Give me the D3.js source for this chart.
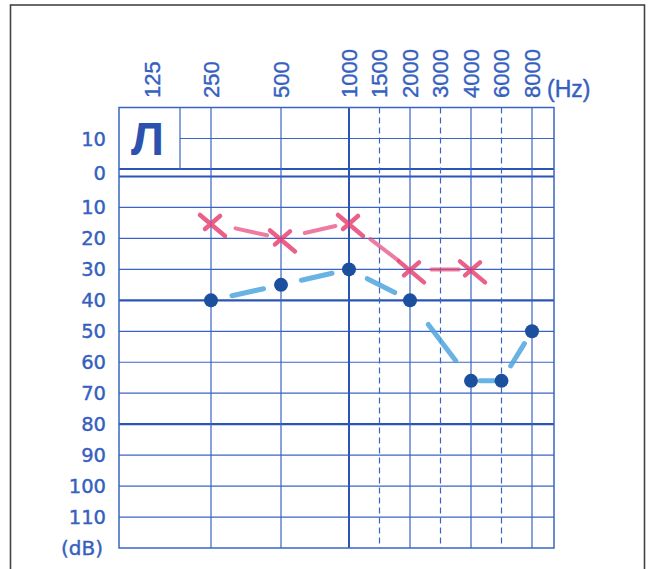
<!DOCTYPE html>
<html>
<head>
<meta charset="utf-8">
<script src="https://cdn.jsdelivr.net/npm/d3@7"></script>
<style>
  body { margin: 0; background: #fff; }
  svg { display: block; }
</style>
</head>
<body>
<svg id="chart" width="655" height="569"></svg>
<script>
// --- data ---
const freqTicks = [125, 250, 500, 1000, 1500, 2000, 3000, 4000, 6000, 8000];
const freqLabels = ["125", "250", "500", "1000", "1500", "2000", "3000", "4000", "6000", "8000"];
const dashedFreqs = [1500, 3000, 6000];
const dbTicks = [-10, 0, 10, 20, 30, 40, 50, 60, 70, 80, 90, 100, 110];
const dbLabels = ["10", "0", "10", "20", "30", "40", "50", "60", "70", "80", "90", "100", "110"];
const thickDb = [40, 80];

// крестики (красные)
const crossFreqs = [250, 500, 1000, 2000, 4000];
const crossDb = [15, 20, 15, 30, 30];
// точки (синие)
const dotFreqs = [250, 500, 1000, 2000, 4000, 6000, 8000];
const dotDb = [40, 35, 30, 40, 66, 66, 50];

// --- layout ---
const plotL = 119, plotR = 554, plotT = 107.5, plotB = 548;
const colX = [152, 211, 281, 349, 379.5, 410, 440.5, 471, 501.5, 532];
const blue = "#3a64c4", blueDark = "#2a55b3", textBlue = "#3560c0";

const svg = d3.select("#chart");

// piecewise scales (audiogram columns are not evenly spaced)
const x = d3.scaleLinear().domain(freqTicks).range(colX);
const y = d3.scaleLinear().domain([-20, -10, 0, 120]).range([plotT, 138.5, 176.5, plotB]);
const zeroTop = y(0) - 7.5;
const boxRight = 180;

// outer frame
svg.append("rect").attr("x", 10.5).attr("y", 5).attr("width", 634).attr("height", 590)
  .attr("fill", "none").attr("stroke", "#444").attr("stroke-width", 1.6);

const grid = svg.append("g").attr("fill", "none");

// horizontal lines
grid.selectAll("line.h")
  .data(dbTicks.filter(d => d > 0))
  .join("line")
  .attr("class", "h")
  .attr("x1", plotL).attr("x2", plotR)
  .attr("y1", d => y(d)).attr("y2", d => y(d))
  .attr("stroke", d => thickDb.includes(d) ? blueDark : blue)
  .attr("stroke-width", d => thickDb.includes(d) ? 2.2 : 1.2);

grid.append("line").attr("x1", boxRight).attr("x2", plotR).attr("y1", y(-10)).attr("y2", y(-10))
  .attr("stroke", blue).attr("stroke-width", 1.2);
[zeroTop, y(0)].forEach(yy => {
  grid.append("line").attr("x1", plotL).attr("x2", plotR).attr("y1", yy).attr("y2", yy)
    .attr("stroke", blueDark).attr("stroke-width", 2);
});

// vertical lines
grid.selectAll("line.v")
  .data(freqTicks.filter(f => f > 125))
  .join("line")
  .attr("class", "v")
  .attr("x1", d => x(d)).attr("x2", d => x(d))
  .attr("y1", plotT).attr("y2", plotB)
  .attr("stroke", d => d === 1000 ? blueDark : blue)
  .attr("stroke-width", d => d === 1000 ? 2 : 1.2)
  .attr("stroke-dasharray", d => dashedFreqs.includes(d) ? "6,4" : null);

grid.append("line").attr("x1", boxRight).attr("x2", boxRight).attr("y1", plotT).attr("y2", zeroTop)
  .attr("stroke", blue).attr("stroke-width", 1.2);
grid.append("rect").attr("x", plotL).attr("y", plotT).attr("width", plotR - plotL).attr("height", plotB - plotT)
  .attr("stroke", blue).attr("stroke-width", 1.5);

// labels
svg.selectAll("text.db")
  .data(dbTicks)
  .join("text")
  .attr("class", "db")
  .attr("x", 106)
  .attr("y", d => d === 0 ? (zeroTop + y(0)) / 2 : y(d))
  .attr("dy", "0.36em")
  .attr("text-anchor", "end")
  .attr("font-family", "DejaVu Sans, sans-serif")
  .attr("font-size", 19.5)
  .attr("fill", textBlue)
  .attr("stroke", textBlue).attr("stroke-width", 0.4)
  .text((d, i) => dbLabels[i]);

svg.append("text").attr("x", 103).attr("y", 548).attr("dy", "0.36em").attr("text-anchor", "end")
  .attr("font-family", "DejaVu Sans, sans-serif").attr("font-size", 20)
  .attr("fill", textBlue).attr("stroke", textBlue).attr("stroke-width", 0.4).text("(dB)");

svg.selectAll("text.hz")
  .data(freqTicks)
  .join("text")
  .attr("class", "hz")
  .attr("transform", d => `translate(${x(d)},98) rotate(-90)`)
  .attr("dy", "0.36em")
  .attr("text-anchor", "start")
  .attr("font-family", "Liberation Sans, Arial, sans-serif")
  .attr("font-size", 22)
  .attr("fill", textBlue)
  .attr("stroke", textBlue).attr("stroke-width", 0.4)
  .text((d, i) => freqLabels[i]);

svg.append("text").attr("x", 547).attr("y", 89).attr("dy", "0.36em")
  .attr("font-family", "Liberation Sans, Arial, sans-serif").attr("font-size", 23)
  .attr("fill", textBlue).attr("stroke", textBlue).attr("stroke-width", 0.4).text("(Hz)");

svg.append("text").attr("x", 131).attr("y", 155)
  .attr("font-family", "Liberation Sans, Arial, sans-serif").attr("font-weight", "bold")
  .attr("font-size", 47).attr("fill", "#2b52ad").text("Л");

// --- marks ---
const dots = dotFreqs.map((f, i) => [x(f), y(dotDb[i])]);
const crosses = crossFreqs.map((f, i) => [x(f), y(crossDb[i])]);

// hand-drawn look: only the middle part of each connecting segment is drawn
function segs(pts, t0, t1) {
  return d3.pairs(pts).map(([a, b]) => [
    [a[0] + (b[0] - a[0]) * t0, a[1] + (b[1] - a[1]) * t0],
    [a[0] + (b[0] - a[0]) * t1, a[1] + (b[1] - a[1]) * t1]
  ]);
}

svg.append("g")
  .selectAll("line")
  .data(segs(crosses, 0.35, 0.8))
  .join("line")
  .attr("x1", d => d[0][0]).attr("y1", d => d[0][1])
  .attr("x2", d => d[1][0]).attr("y2", d => d[1][1])
  .attr("stroke", "#e8467a").attr("stroke-width", 4)
  .attr("stroke-linecap", "round").attr("opacity", 0.7);

svg.append("g")
  .selectAll("path")
  .data(crosses)
  .join("path")
  .attr("transform", d => `translate(${d[0]},${d[1]})`)
  .attr("d", "M-11,-8L14,13M-6,6L9,-7")
  .attr("fill", "none")
  .attr("stroke", "#e5386c").attr("stroke-width", 4.5)
  .attr("stroke-linecap", "round").attr("opacity", 0.8);

svg.append("g")
  .selectAll("line")
  .data(segs(dots, 0.3, 0.75))
  .join("line")
  .attr("x1", d => d[0][0]).attr("y1", d => d[0][1])
  .attr("x2", d => d[1][0]).attr("y2", d => d[1][1])
  .attr("stroke", "#4ea6df").attr("stroke-width", 5)
  .attr("stroke-linecap", "round").attr("opacity", 0.85);

svg.append("g")
  .selectAll("circle")
  .data(dots)
  .join("circle")
  .attr("cx", d => d[0]).attr("cy", d => d[1])
  .attr("r", 7)
  .attr("fill", "#1c4f9e");
</script>
</body>
</html>
